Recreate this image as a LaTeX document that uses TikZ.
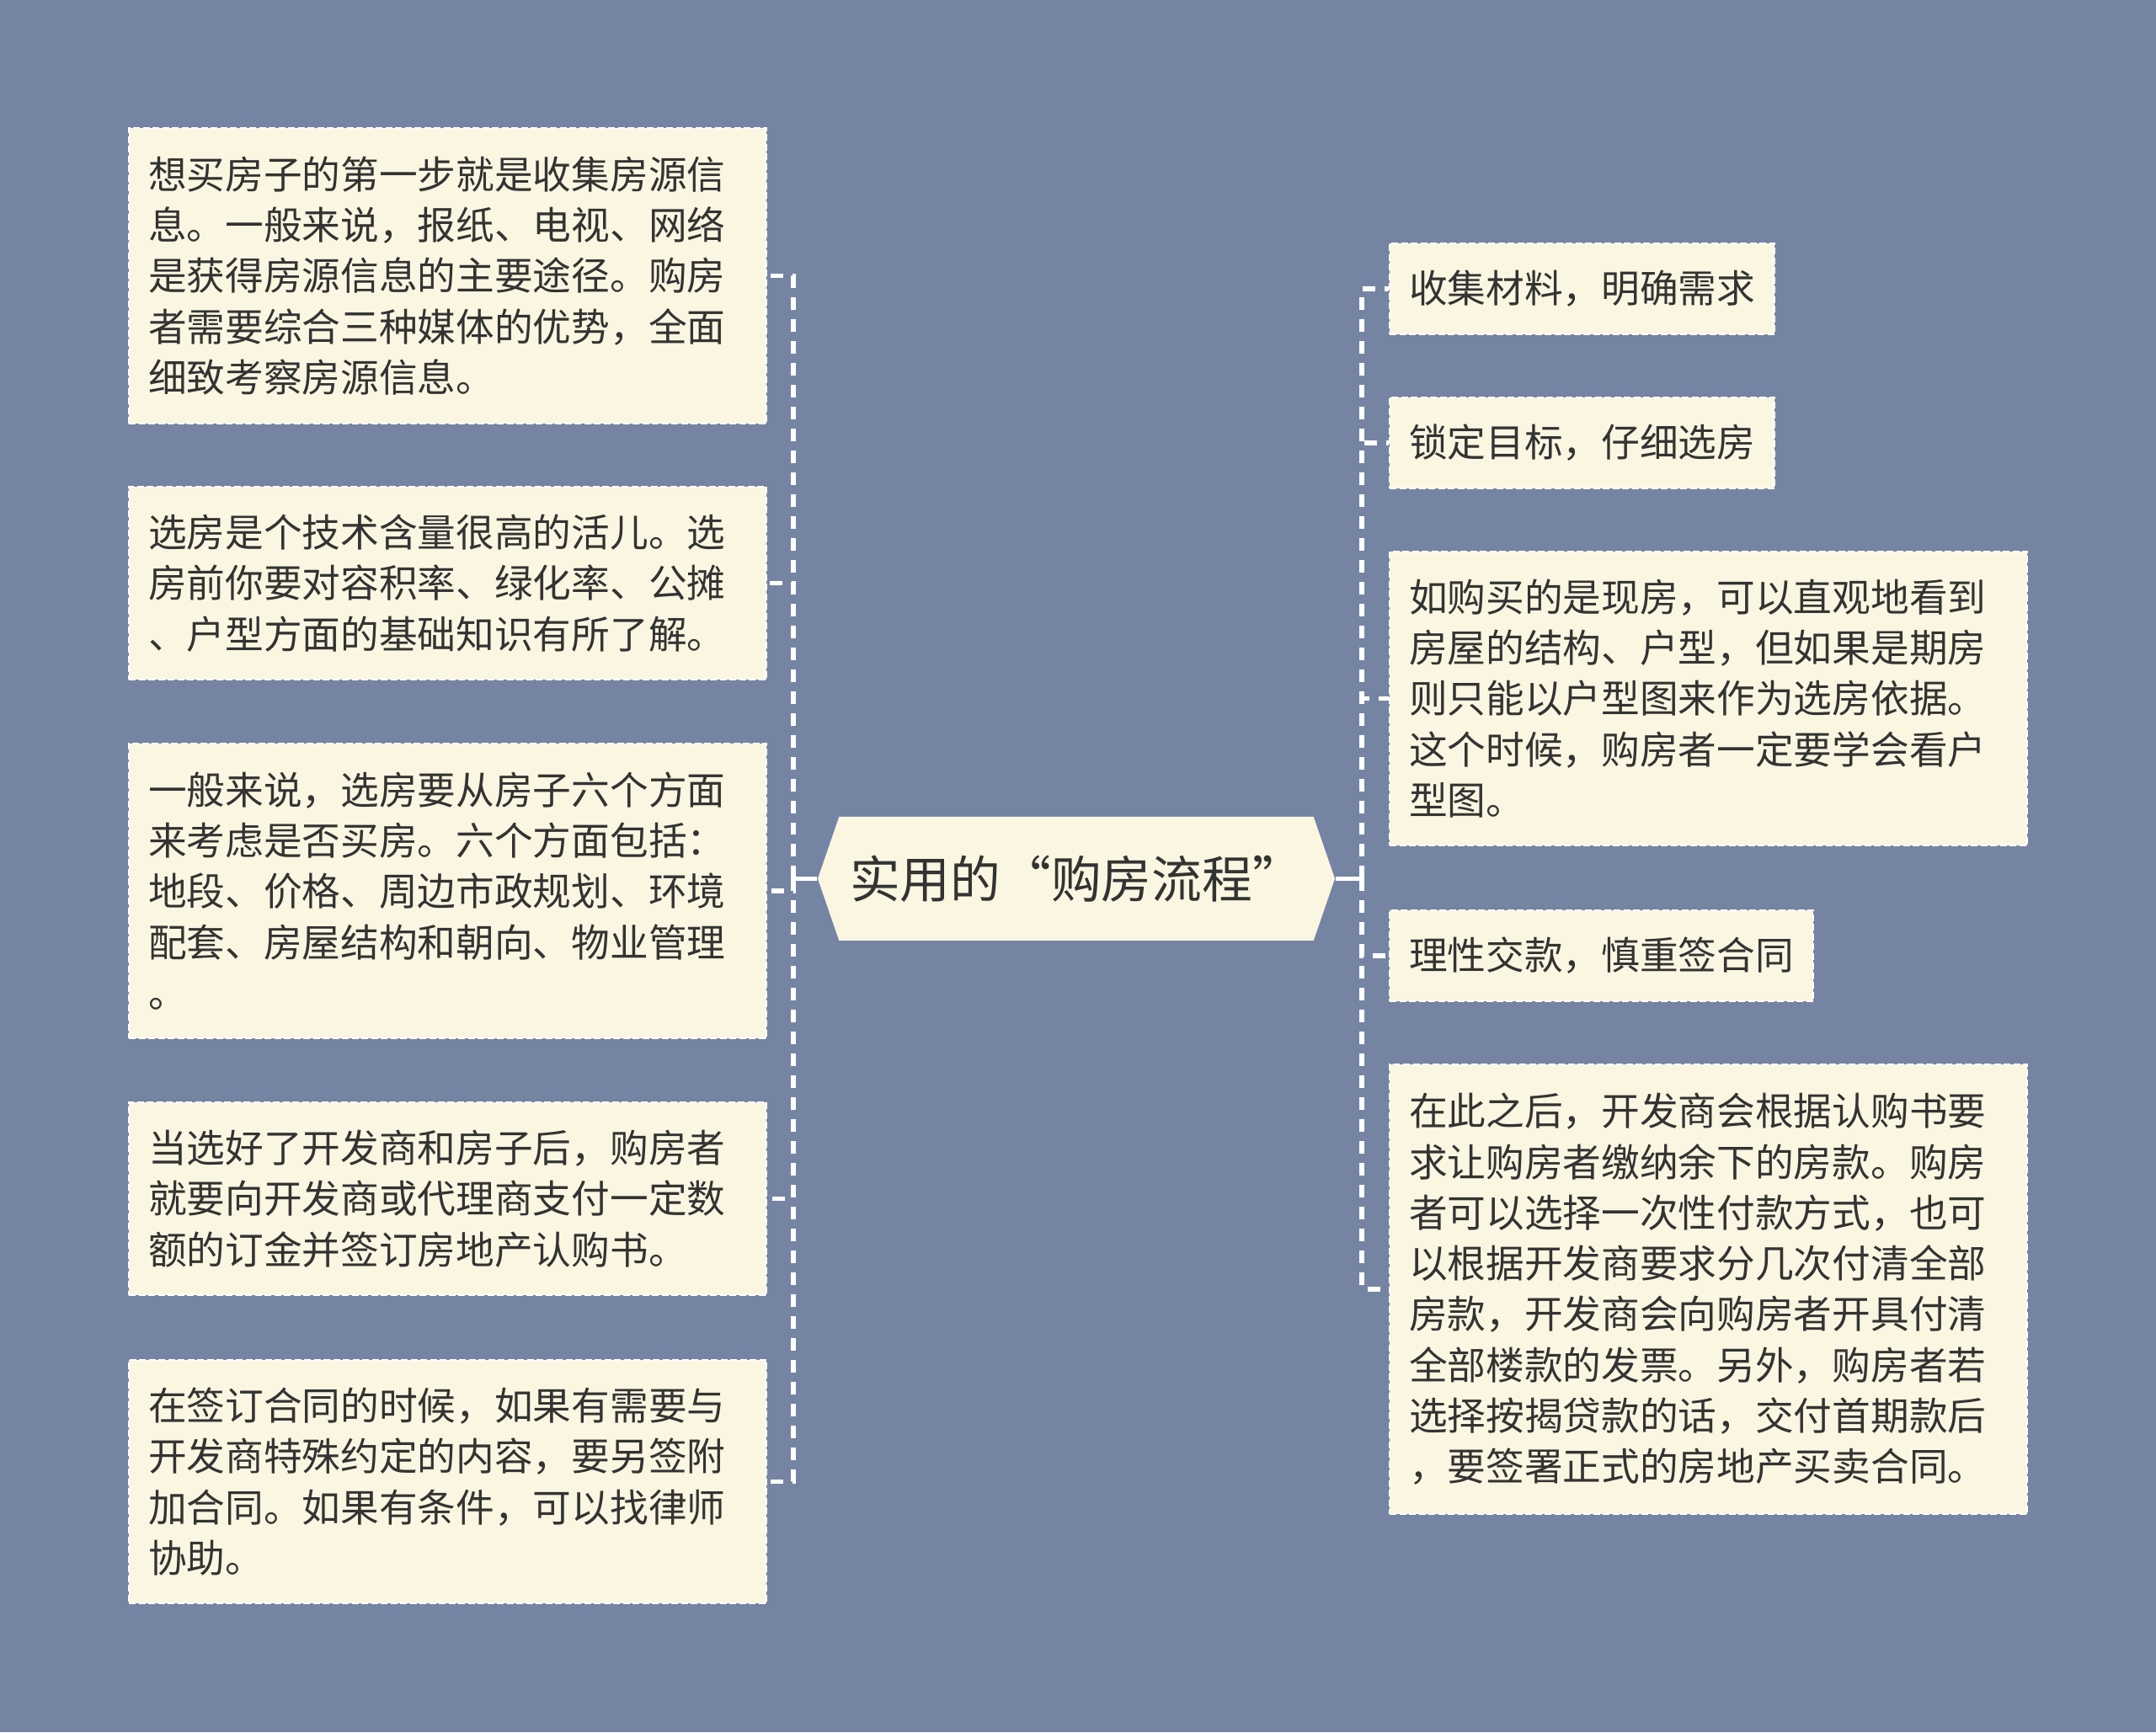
\documentclass[tikz,border=0pt]{standalone}
\usepackage{fontspec}
\newfontfamily\zhfont{Noto Sans CJK SC}
\newfontfamily\zhtitle[RawFeature={+fwid}]{Noto Sans CJK SC}
\usetikzlibrary{shapes.symbols}
\definecolor{cBg}{HTML}{7684A4}
\definecolor{cBox}{HTML}{FAF6E1}
\definecolor{cInk}{HTML}{333333}
\tikzset{
    leaf/.style={draw=white, fill=cBox, line width=0.6pt,
                 dash pattern=on 0.08cm off 0.035cm, anchor=west, align=left,
                 text=cInk, inner xsep=0.23cm, inner ysep=0pt,
                 font=\fontsize{13pt}{17.15pt}\zhfont},
    para/.style={leaf, text width=7.11cm},
    hub/.style={shape=signal, signal to=east and west, signal pointer angle=142,
                fill=cBox, text=cInk, minimum height=1.47cm, minimum width=6.14cm,
                inner xsep=0.05cm, font=\fontsize{17pt}{20pt}\zhtitle},
    wire/.style={draw=white, line width=1.5pt},
    dwire/.style={wire, dash pattern=on 0.15cm off 0.11cm},
}

\begin{document}
\begin{tikzpicture}[x=1cm, y=1cm]

\fill[cBg] (0,0) rectangle (25.6,20.57);

\node[hub] (root) at (12.78,10.135) {实用的“购房流程”};

% left side
\node[para, minimum height=3.51cm] (l1) at (1.52,17.295)
    {想买房子的第一步就是收集房源信\\息。一般来说，报纸、电视、网络\\是获得房源信息的主要途径。购房\\者需要综合三种媒体的优势，全面\\细致考察房源信息。};
\node[para, minimum height=2.29cm] (l2) at (1.52,13.645)
    {选房是个技术含量很高的活儿。选\\房前你要对容积率、绿化率、公摊\\、户型方面的基础知识有所了解。};
\node[para, minimum height=3.50cm] (l3) at (1.52,9.99)
    {一般来说，选房要从房子六个方面\\来考虑是否买房。六个方面包括：\\地段、价格、周边市政规划、环境\\配套、房屋结构和朝向、物业管理\\。};
\node[para, minimum height=2.29cm] (l4) at (1.52,6.335)
    {当选好了开发商和房子后，购房者\\就要向开发商或代理商支付一定数\\额的订金并签订房地产认购书。};
\node[para, minimum height=2.89cm] (l5) at (1.52,2.975)
    {在签订合同的时候，如果有需要与\\开发商特殊约定的内容，要另签附\\加合同。如果有条件，可以找律师\\协助。};

% right side
\node[leaf, minimum height=1.08cm] (r1) at (16.49,17.14) {收集材料，明确需求};
\node[leaf, minimum height=1.08cm] (r2) at (16.49,15.31) {锁定目标，仔细选房};
\node[para, minimum height=3.49cm] (r3) at (16.49,12.275)
    {如购买的是现房，可以直观地看到\\房屋的结构、户型，但如果是期房\\则只能以户型图来作为选房依据。\\这个时候，购房者一定要学会看户\\型图。};
\node[leaf, minimum height=1.08cm] (r4) at (16.49,9.22) {理性交款，慎重签合同};
\node[para, minimum height=5.34cm] (r5) at (16.49,5.26)
    {在此之后，开发商会根据认购书要\\求让购房者缴纳余下的房款。购房\\者可以选择一次性付款方式，也可\\以根据开发商要求分几次付清全部\\房款，开发商会向购房者开具付清\\全部楼款的发票。另外，购房者若\\选择按揭贷款的话，交付首期款后\\，要签署正式的房地产买卖合同。};

% branches
\coordinate (jL) at (9.42,10.135);
\coordinate (jR) at (16.17,10.135);
\draw[wire] (root.west) -- (jL);
\draw[wire] (root.east) -- (jR);
\foreach \n in {l1,l2,l3,l4,l5}{\draw[dwire] (jL) |- (\n.east);}
\foreach \n in {r1,r2,r3,r4,r5}{\draw[dwire] (jR) |- (\n.west);}

\end{tikzpicture}
\end{document}
